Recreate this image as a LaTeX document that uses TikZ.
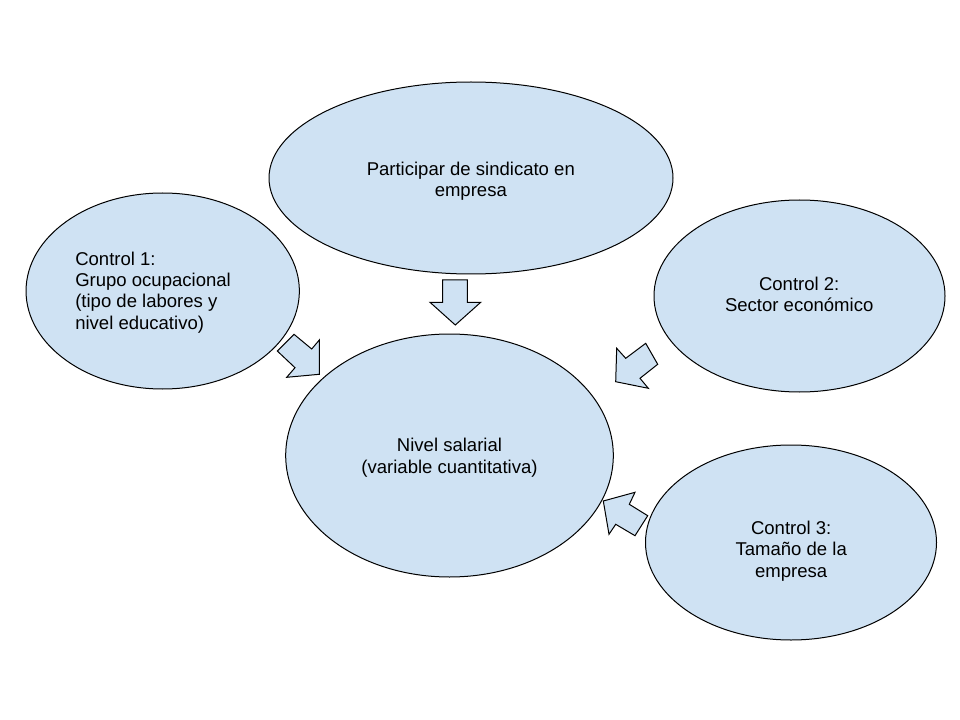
\documentclass[tikz,border=0pt]{standalone}
\usepackage{fontspec}
\setmainfont{Liberation Sans}
\usetikzlibrary{shapes.geometric}
\definecolor{bubblefill}{HTML}{CFE2F3}
\tikzset{
  bubble/.style={ellipse, draw=black, fill=bubblefill, line width=0.75pt, inner sep=0pt},
  txt/.style={font=\fontsize{13.9}{16}\selectfont, align=center, inner sep=0pt, text=black},
  blockarrow/.style={draw=black, fill=bubblefill, line width=0.75pt, line join=miter}
}
\begin{document}
\begin{tikzpicture}[x=0.75pt, y=-0.75pt]
\useasboundingbox (0,0) rectangle (960,720);
% ellipses
\node[bubble, minimum width=303pt, minimum height=144pt] (top) at (471,178) {};
\node[bubble, minimum width=205pt, minimum height=147pt] (c1) at (162.7,291) {};
\node[bubble, minimum width=218.25pt, minimum height=144pt] (c2) at (799.5,296) {};
\node[bubble, minimum width=218.25pt, minimum height=146.25pt] (c3) at (791,542.5) {};
\node[bubble, minimum width=245.7pt, minimum height=182.25pt] (nivel) at (449.5,455.5) {};
% texts
\node[txt] (ttop) at (470.8,181.1) {Participar de sindicato en\\empresa};
\node[txt, align=left, anchor=west] (tc1) at (75,292.3) {Control 1:\\Grupo ocupacional\\(tipo de labores y\\nivel educativo)};
\node[txt] (tc2) at (799.2,294.5) {Control 2:\\Sector económico};
\node[txt] (tc3) at (791.2,551.1) {Control 3:\\Tamaño de la\\empresa};
\node[txt] (tnivel) at (449.5,457.75) {Nivel salarial\\(variable cuantitativa)};
% block arrows
\draw[blockarrow] (442.7,280) -- (467.3,280) -- (467.3,302.3) -- (480.7,302.3) -- (455.3,325) -- (430,302.3) -- (442.7,302.3) -- cycle;
\draw[blockarrow] (277.3,351) -- (294,334.3) -- (311.7,349) -- (319.3,340) -- (319.3,374.3) -- (286.7,377.3) -- (295,367.7) -- cycle;
\draw[blockarrow] (645.7,343.3) -- (657.7,364.3) -- (640,378.3) -- (648.3,388.3) -- (615.7,381.7) -- (616.7,348.3) -- (625.7,358.3) -- cycle;
\draw[blockarrow] (647.7,515.7) -- (635,535.7) -- (615.7,524.3) -- (609,534.3) -- (603.3,501) -- (635,492.3) -- (629.3,504.3) -- cycle;
\end{tikzpicture}
\end{document}
